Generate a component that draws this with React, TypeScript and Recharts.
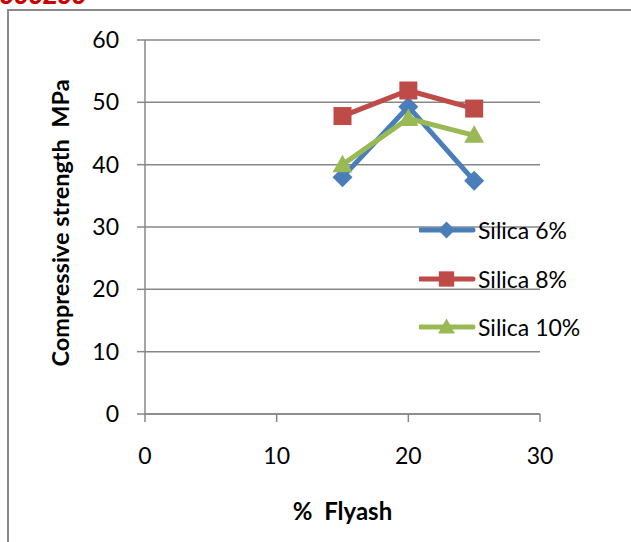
import React from 'react';
import { LineChart, Line, XAxis, YAxis, CartesianGrid, Legend } from 'recharts';

const flyash = [15, 20, 25];
const silica6 = [38.0, 49.3, 37.4];
const silica8 = [47.8, 51.9, 49.0];
const silica10 = [40.0, 47.4, 44.7];
const xTicks = [0, 10, 20, 30];
const yTicks = [0, 10, 20, 30, 40, 50, 60];
const seriesKeys = ['s6', 's8', 's10'];
const seriesNames = ['Silica 6%', 'Silica 8%', 'Silica 10%'];
const seriesColors = ['#4A7EBB', '#BE4B48', '#98B954'];
const markerTypes = ['diamond', 'square', 'triangle'];
const xTitle = '%  Flyash';
const yTitle = 'Compressive strength  MPa';
const headerText = '999299';

const data = flyash.map((x, i) => ({ x, s6: silica6[i], s8: silica8[i], s10: silica10[i] }));

const FONT = 'Lato, "Liberation Sans", sans-serif';
const GRID = '#878787';

function Marker({ type, cx, cy, fill, size }: { type: string; cx: number; cy: number; fill: string; size: number }) {
  const r = size / 2;
  if (type === 'diamond') {
    return <polygon points={`${cx},${cy - r} ${cx + r},${cy} ${cx},${cy + r} ${cx - r},${cy}`} fill={fill} />;
  }
  if (type === 'square') {
    return <rect x={cx - r * 0.9} y={cy - r * 0.9} width={r * 1.8} height={r * 1.8} fill={fill} />;
  }
  return <polygon points={`${cx},${cy - r} ${cx + r},${cy + r * 0.75} ${cx - r},${cy + r * 0.75}`} fill={fill} />;
}

function makeDot(type: string, fill: string) {
  return (p: any) => (
    <Marker key={`${type}-${p.index}`} type={type} cx={p.cx} cy={p.cy} fill={fill} size={20} />
  );
}

function XTitle(props: any) {
  const vb = props.viewBox || {};
  return (
    <text
      x={vb.x + vb.width / 2}
      y={vb.y + 96}
      textAnchor="middle"
      dominantBaseline="central"
      fontFamily={FONT}
      fontWeight="bold"
      fontSize={24}
      fill="#000"
      style={{ whiteSpace: 'pre' }}
    >
      {xTitle}
    </text>
  );
}

function YTitle(props: any) {
  const vb = props.viewBox || {};
  const cx = vb.x + 25;
  const cy = vb.y + vb.height / 2 - 4;
  return (
    <text
      x={cx}
      y={cy}
      transform={`rotate(-90, ${cx}, ${cy})`}
      textAnchor="middle"
      dominantBaseline="central"
      fontFamily={FONT}
      fontWeight="bold"
      fontSize={23.5}
      fill="#000"
      style={{ whiteSpace: 'pre' }}
    >
      {yTitle}
    </text>
  );
}

function LegendContent() {
  return (
    <div style={{ fontFamily: FONT }}>
      {seriesNames.map((name, i) => (
        <div key={name} style={{ display: 'flex', alignItems: 'center', height: 48.5 }}>
          <svg width={58} height={24} style={{ display: 'block' }}>
            <line x1={1} y1={12} x2={54} y2={12} stroke={seriesColors[i]} strokeWidth={5} strokeLinecap="round" />
            <Marker type={markerTypes[i]} cx={27.5} cy={12} fill={seriesColors[i]} size={17} />
          </svg>
          <span style={{ fontSize: 23, color: '#000', marginLeft: 1, lineHeight: '24px' }}>{name}</span>
        </div>
      ))}
    </div>
  );
}

export default function App() {
  return (
    <div style={{ position: 'absolute', left: 0, top: 0, width: 631, height: 542, overflow: 'hidden', background: '#fff' }}>
      <svg width={200} height={12} style={{ position: 'absolute', left: 0, top: 0 }}>
        <text x={0} y={4} fill="#CC0000" fontFamily='"Liberation Sans", sans-serif' fontWeight="bold" fontStyle="italic" fontSize={26}>
          {headerText}
        </text>
      </svg>
      <div
        style={{
          position: 'absolute',
          left: 7,
          top: 9,
          width: 700,
          height: 600,
          borderLeft: '2px solid #8a8a8a',
          borderTop: '2px solid #8a8a8a',
        }}
      />
      <div style={{ position: 'absolute', left: 0, top: 0 }}>
        <LineChart width={631} height={542} data={data} margin={{ top: 40, right: 91, bottom: 88, left: 35 }}>
          <CartesianGrid vertical={false} stroke={GRID} strokeWidth={1.5} />
          <XAxis
            type="number"
            dataKey="x"
            domain={[0, 30]}
            ticks={xTicks}
            tickSize={8}
            tickMargin={26}
            height={40}
            stroke={GRID}
            axisLine={{ stroke: GRID, strokeWidth: 1.5 }}
            tickLine={{ stroke: GRID, strokeWidth: 1.5 }}
            tick={{ fill: '#000', fontSize: 23, fontFamily: FONT }}
            label={<XTitle />}
            allowDataOverflow
          />
          <YAxis
            type="number"
            domain={[0, 60]}
            ticks={yTicks}
            tickSize={8}
            tickMargin={18}
            width={110}
            stroke={GRID}
            axisLine={{ stroke: GRID, strokeWidth: 1.5 }}
            tickLine={{ stroke: GRID, strokeWidth: 1.5 }}
            tick={{ fill: '#000', fontSize: 23, fontFamily: FONT }}
            label={<YTitle />}
          />
          {seriesKeys.map((k, i) => (
            <Line
              key={k}
              type="linear"
              dataKey={k}
              name={seriesNames[i]}
              stroke={seriesColors[i]}
              strokeWidth={5}
              dot={makeDot(markerTypes[i], seriesColors[i])}
              activeDot={false}
              isAnimationActive={false}
            />
          ))}
          <Legend
            layout="horizontal"
            verticalAlign="middle"
            align="center"
            content={<LegendContent />}
            wrapperStyle={{ position: 'absolute', left: 419, top: 206, width: 210 }}
          />
        </LineChart>
      </div>
    </div>
  );
}
